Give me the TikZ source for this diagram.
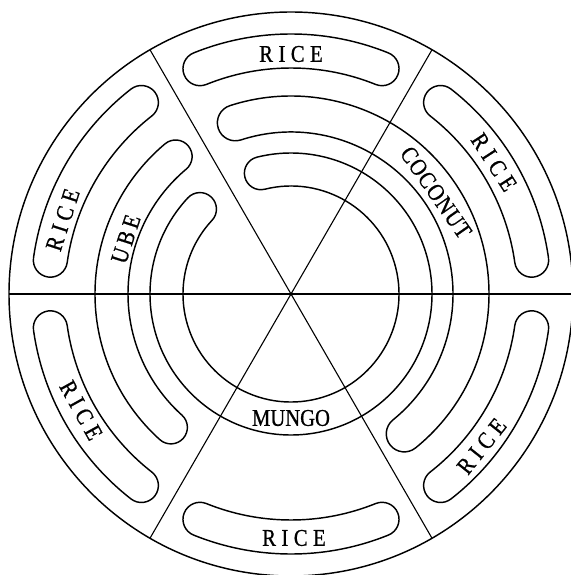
\documentclass[tikz,border=0pt]{standalone}
\usepackage{fontspec}
\setmainfont{Liberation Serif}[FakeStretch=0.86,FakeBold=0.8]
\newcommand\drawslot[4]{%
  \pgfmathsetmacro\sla{#1}%
  \pgfmathsetmacro\slb{#2}%
  \pgfmathsetmacro\slbb{#2+180}%
  \pgfmathsetmacro\slaa{#1+180}%
  \pgfmathsetmacro\slaaa{#1+360}%
  \pgfmathsetmacro\slc{(#4-#3)/2}%
  \draw[curve] (\sla:#4pt) arc[start angle=\sla, end angle=\slb, radius=#4pt]
    arc[start angle=\slb, end angle=\slbb, radius=\slc pt]
    arc[start angle=\slb, end angle=\sla, radius=#3pt]
    arc[start angle=\slaa, end angle=\slaaa, radius=\slc pt] -- cycle;
}
\begin{document}
\begin{tikzpicture}[
  curve/.style={line width=1.45pt, line join=round},
  spoke/.style={line width=1.1pt},
  lbl/.style={font=\fontsize{24pt}{28pt}\selectfont, inner sep=0pt}
]
\useasboundingbox (-291pt,-281pt) rectangle (279pt,294pt);
\coordinate (O) at (0pt,0pt);
\draw[curve] (O) circle[radius=282pt];
\foreach \a/\n in {0/e,60/ne,120/nw,180/w,240/sw,300/se}
  \coordinate (rim\n) at (\a:282pt);
\draw[spoke] (rimw) -- (rime);
\draw[spoke] (rimsw) -- (rimne);
\draw[spoke] (rimse) -- (rimnw);
% outer rice slots
\foreach \b in {30,90,150,210,270,330} {\drawslot{\b-22}{\b+22}{226}{260}}
% coconut band
\drawslot{-51}{108}{162}{198}
% ube band
\drawslot{130}{228}{163}{196}
% mungo band
\drawslot{137}{464}{108}{141}
% labels
\node[lbl] (riceN) at (90:240pt) {R\kern5.5pt I\kern5.5pt C\kern5.5pt E};
\node[lbl, rotate=-57] (riceNE) at (33:242pt) {R\kern5.5pt I\kern5.5pt C\kern5.5pt E};
\node[lbl, rotate=51.4] (riceSE) at (-38.6:244pt) {R\kern5.5pt I\kern5.5pt C\kern5.5pt E};
\node[lbl] (riceS) at (-89.3:244pt) {R\kern5.5pt I\kern5.5pt C\kern5.5pt E};
\node[lbl, rotate=-61] (riceSW) at (209:240pt) {R\kern5.5pt I\kern5.5pt C\kern5.5pt E};
\node[lbl, rotate=72] (riceNW) at (162:240pt) {R\kern5.5pt I\kern5.5pt C\kern5.5pt E};
\node[lbl, rotate=72] (ube) at (161.6:174pt) {U\kern4pt B\kern4pt E};
\node[lbl, rotate=-55] (coconut) at (35:177pt) {C\kern1pt O\kern1pt C\kern1pt O\kern1pt N\kern1pt U\kern1pt T};
\node[lbl] (mungo) at (-90:124pt) {MUNGO};
\end{tikzpicture}
\end{document}
